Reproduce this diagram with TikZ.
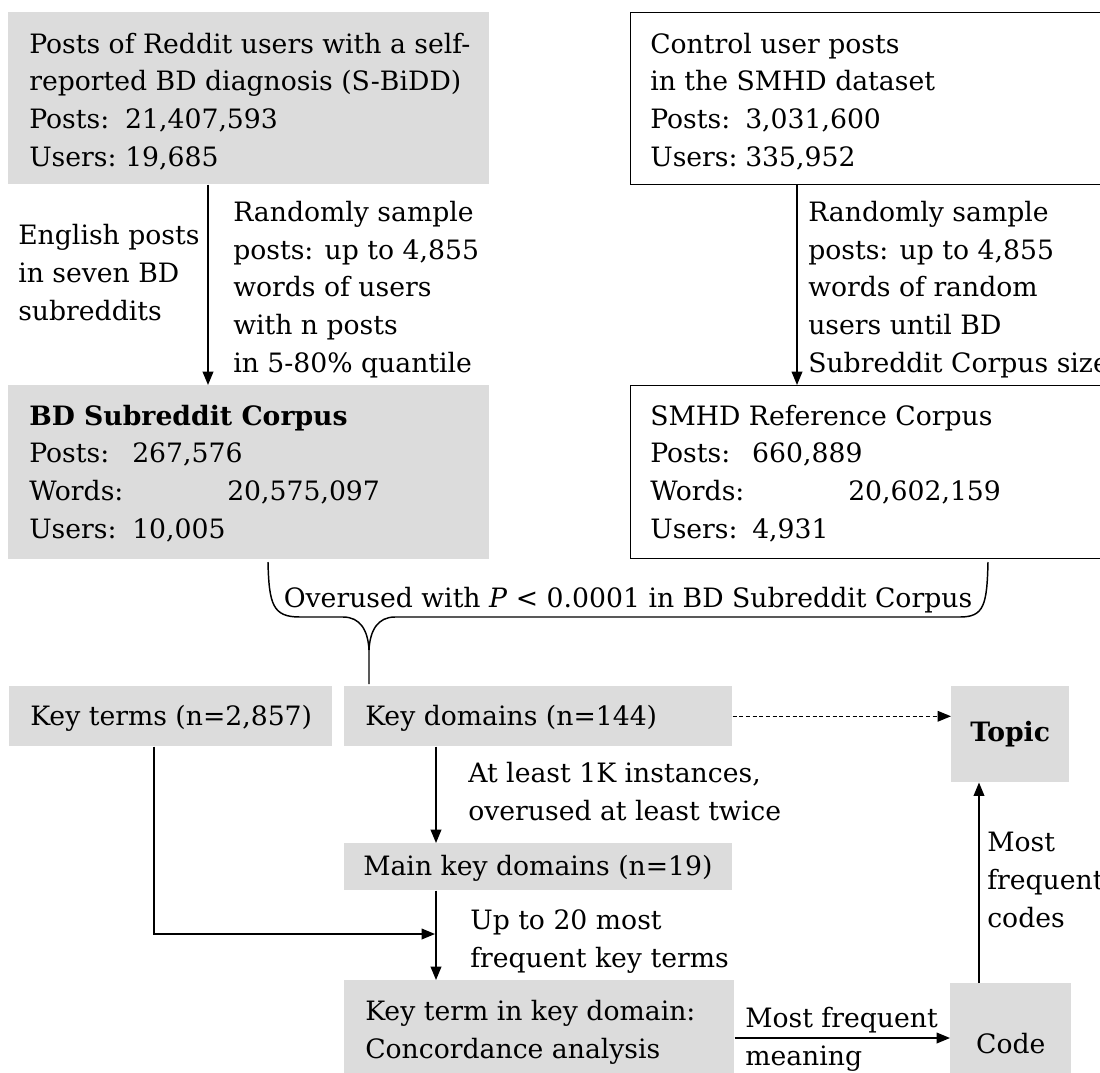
\documentclass[tikz,border=0pt]{standalone}
\usepackage{fontspec}
\setmainfont{DejaVu Serif}
\usetikzlibrary{arrows.meta}
\definecolor{boxgray}{RGB}{220,220,220}
\newlength\pxunit
\setlength\pxunit{0.75pt}
\newcommand\lab[2]{\makebox[#1\pxunit][l]{#2}}
\begin{document}
\begin{tikzpicture}[x=0.75pt,y=-0.75pt,
  txt/.style={font=\fontsize{20}{28.2}\selectfont, inner sep=0pt, align=left, anchor=base west},
  gbox/.style={fill=boxgray, draw=none, inner sep=0pt, anchor=north west, font=\fontsize{20}{28.2}\selectfont},
  wbox/.style={fill=white, draw=black, line width=1.1pt, inner sep=0pt, anchor=north west},
  conn/.style={line width=1.1pt, -{Triangle[length=10pt,width=8pt]}},
  dconn/.style={line width=0.9pt, dash pattern=on 3pt off 2pt, -{Triangle[length=10pt,width=8pt]}},
  brace/.style={line width=1.1pt}]
\useasboundingbox (0,0) rectangle (1100,1072);
\clip (0,0) rectangle (1100,1072);

% boxes
\node[gbox, minimum width=481*0.75pt, minimum height=172*0.75pt] (sbidd) at (8,12) {};
\node[wbox, minimum width=480*0.75pt, minimum height=172*0.75pt] (ctrl) at (630,12) {};
\node[gbox, minimum width=481*0.75pt, minimum height=174*0.75pt] (bdc) at (8,385) {};
\node[wbox, minimum width=480*0.75pt, minimum height=173*0.75pt] (refc) at (630,385) {};
\node[gbox, minimum width=323*0.75pt, minimum height=60*0.75pt] (kterms) at (9,686) {};
\node[gbox, minimum width=388*0.75pt, minimum height=60*0.75pt] (kd) at (344,686) {};
\node[gbox, minimum width=388*0.75pt, minimum height=47*0.75pt] (mkd) at (344,843) {};
\node[gbox, minimum width=390*0.75pt, minimum height=110*0.75pt] (kterm) at (344,980) {};
\node[gbox, minimum width=118*0.75pt, minimum height=96*0.75pt] (topic) at (951,686) {\textbf{Topic}};
\node[gbox, minimum width=121*0.75pt, minimum height=120*0.75pt] (code) at (950,983) {Code};

% box texts (anchored at the baseline of their last line)
\node[txt] (sbiddT) at (29,166) {Posts of Reddit users with a self-\\reported BD diagnosis (S-BiDD)\\\lab{96}{Posts:}21,407,593\\\lab{96}{Users:}19,685};
\node[txt] (ctrlT) at (650,166) {Control user posts\\in the SMHD dataset\\\lab{95}{Posts:}3,031,600\\\lab{95}{Users:}335,952};
\node[txt] (bdcT) at (29,538) {\textbf{BD Subreddit Corpus}\\\lab{103}{Posts:}267,576\\\lab{198}{Words:}20,575,097\\\lab{103}{Users:}10,005};
\node[txt] (refcT) at (650,538) {SMHD Reference Corpus\\\lab{102}{Posts:}660,889\\\lab{198}{Words:}20,602,159\\\lab{102}{Users:}4,931};
\node[txt] (ktermsT) at (30,725) {Key terms (n=2,857)};
\node[txt] (kdT) at (365,725) {Key domains (n=144)};
\node[txt] (mkdT) at (363,875) {Main key domains (n=19)};
\node[txt] (ktermT) at (365,1058) {Key term in key domain:\\Concordance analysis};

% connectors
\coordinate (xa) at (208,0);
\coordinate (xb) at (797,0);
\coordinate (xc) at (436,0);
\coordinate (xd) at (154,0);
\coordinate (xe) at (979,0);
\coordinate (jn) at (435,934);
\coordinate (yc) at (0,1038);

\draw[conn] (sbidd.south -| xa) -- (bdc.north -| xa);
\draw[conn] (ctrl.south -| xb) -- (refc.north -| xb);
\draw[conn] (kd.south -| xc) -- (mkd.north -| xc);
\draw[conn] (mkd.south -| xc) -- (kterm.north -| xc);
\draw[conn] (kterms.south -| xd) |- (jn);
\draw[conn] (kterm.east |- yc) -- (code.west |- yc);
\draw[conn] (code.north -| xe) -- (topic.south -| xe);
\draw[dconn] (kd.east) -- (topic.west |- kd.east);

% brace
\draw[brace] (268,562) .. controls (269,605) and (273,617) .. (300,617) -- (343,617)
  .. controls (360,617) and (368,630) .. (369,650) -- (369,684);
\draw[brace] (369,650) .. controls (370,630) and (378,617) .. (395,617) -- (960,617)
  .. controls (984,617) and (987,605) .. (988,562);

% labels (anchored at the baseline of their last line)
\node[txt] (l1) at (18,320) {English posts\\in seven BD\\subreddits};
\node[txt] (l2) at (233,372) {Randomly sample\\posts: up to 4,855\\words of users\\with n posts\\in 5-80\% quantile};
\node[txt] (l3) at (808,372) {Randomly sample\\posts: up to 4,855\\words of random\\users until BD\\Subreddit Corpus size};
\node[txt, anchor=base] (l4) at (628,607) {Overused with \textit{P} < 0.0001 in BD Subreddit Corpus};
\node[txt] (l5) at (468,820) {At least 1K instances,\\overused at least twice};
\node[txt] (l6) at (470,967) {Up to 20 most\\frequent key terms};
\node[txt] (l7) at (745,1065) {Most frequent\\meaning};
\node[txt] (l8) at (987,927) {Most\\frequent\\codes};
\end{tikzpicture}
\end{document}
